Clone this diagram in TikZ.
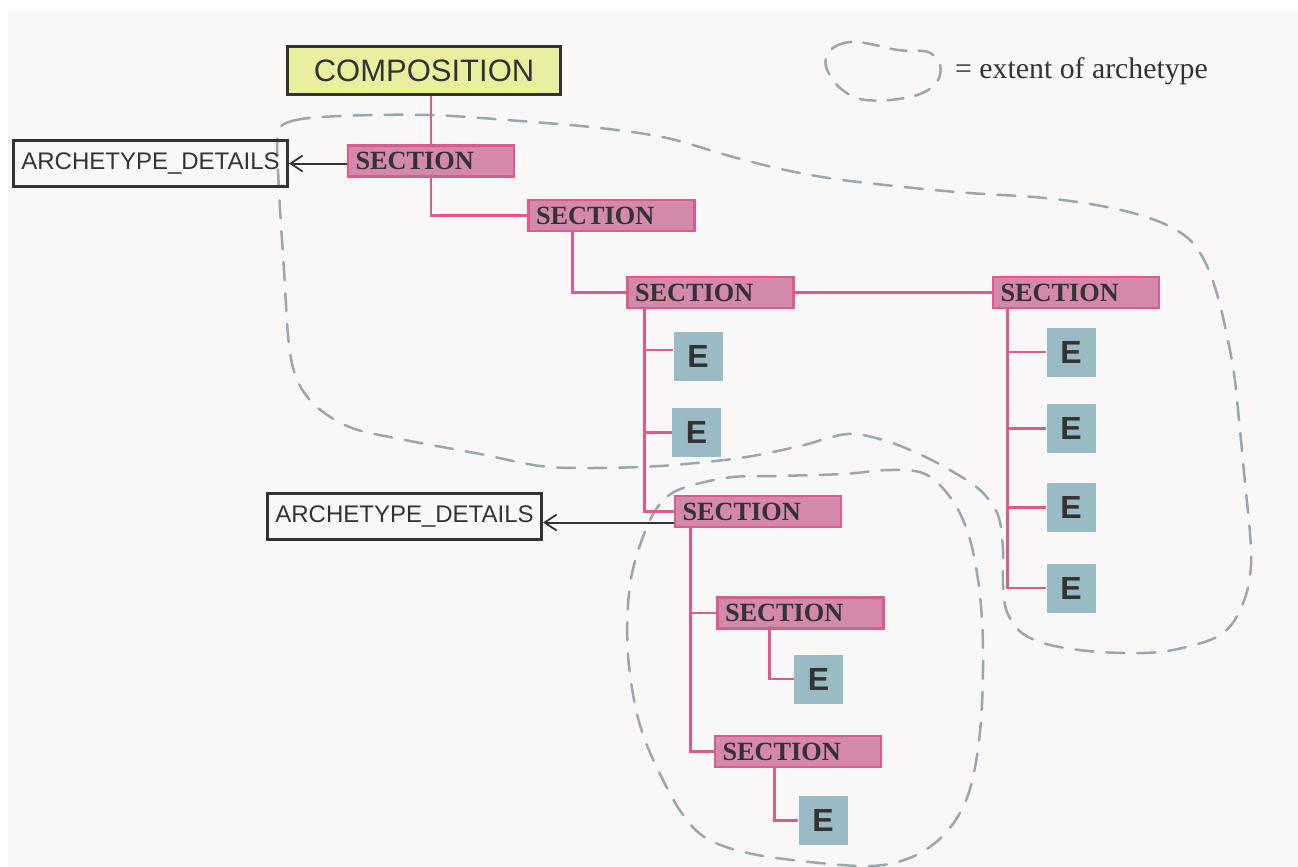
\documentclass[tikz,border=0pt]{standalone}
\usepackage{fontspec}
\setmainfont{Liberation Serif}
\setsansfont{Liberation Sans}
\usetikzlibrary{arrows.meta}

\definecolor{bgc}{HTML}{F9F8F6}
\definecolor{compfill}{HTML}{E9EF9F}
\definecolor{secfill}{HTML}{D388AC}
\definecolor{secline}{HTML}{DE5A8A}
\definecolor{efill}{HTML}{99BBC3}
\definecolor{ink}{HTML}{333333}
\definecolor{blobc}{HTML}{9AA7AD}

\begin{document}
\begin{tikzpicture}[x=1pt,y=-1pt,
  sect/.style={draw=secline, fill=secfill, line width=2.7pt,
    minimum width=166pt, minimum height=31pt, inner sep=0pt,
    text width=151pt, align=left, text height=17pt, text depth=0pt,
    font=\fontsize{26.3}{28}\selectfont\bfseries, text=ink},
  elem/.style={fill=efill, minimum width=49pt, minimum height=49pt, inner sep=0pt,
    font=\sffamily\bfseries\fontsize{32}{34}\selectfont, text=ink},
  detail/.style={draw=ink, line width=3pt, minimum width=274pt, minimum height=46pt,
    inner sep=0pt, font=\sffamily\fontsize{24}{26}\selectfont, text=ink},
  compbox/.style={draw=ink, fill=compfill, line width=2.7pt, minimum width=273pt,
    minimum height=48pt, inner sep=0pt, font=\sffamily\fontsize{31}{34}\selectfont, text=ink},
  conn/.style={draw=secline, line width=2.7pt},
  arr/.style={draw=ink, line width=2pt, -{Straight Barb[length=12pt, width=16pt, line width=1.8pt]}},
  extent/.style={draw=blobc, line width=2.5pt, dash pattern=on 18pt off 13pt, line cap=round},
]
% page and canvas
\useasboundingbox (0,0) rectangle (1298,867);
\fill[white] (0,0) rectangle (1298,867);
\fill[bgc] (8,11) rectangle (1298,867);

% archetype extents
\draw[extent] plot[smooth cycle, tension=0.55] coordinates {
  (278,135) (292,121) (340,116) (430,115) (520,121) (600,128) (667,138)
  (733,157) (790,171) (850,181) (956,192) (1045,198) (1112,208) (1160,222)
  (1190,240) (1207,266) (1220,305) (1233,367) (1239,420) (1245,483) (1250,533)
  (1251,565) (1246,595) (1232,624) (1210,640) (1160,652) (1100,652) (1050,645)
  (1022,633) (1007,612) (1003,585) (1003,550) (998,515) (980,490) (950,470)
  (917,453) (883,440) (847,434) (800,446) (740,458) (660,466) (590,468)
  (540,466) (480,454) (405,440) (352,428) (318,408) (298,382) (289,345)
  (284,270) (279,190)};
\draw[extent] plot[smooth cycle, tension=0.6] coordinates {
  (650,520) (668,496) (693,485) (733,477) (777,476) (843,474) (890,470)
  (925,474) (950,497) (967,530) (977,573) (982,620) (983,670) (981,720)
  (976,762) (968,795) (955,821) (935,843) (907,859) (870,866) (810,862)
  (748,853) (706,838) (681,812) (660,774) (645,740) (635,705) (628,655)
  (628,605) (634,565)};
\draw[extent, dash pattern=on 16pt off 12pt] plot[smooth cycle, tension=0.6] coordinates {
  (826,58) (836,46) (858,42) (898,50) (928,52) (940,65) (937,82) (920,94)
  (890,100) (860,99) (840,88) (828,72)};
\node[anchor=base west, inner sep=0pt, text=ink, font=\fontsize{29.8}{32}\selectfont]
  (legend) at (955,78) {= extent of archetype};

% nodes
\node[compbox] (comp) at (424,70.5) {COMPOSITION};
\node[detail] (ad1) at (150.5,163.5) {ARCHETYPE\_DETAILS};
\node[detail] (ad2) at (404.5,516.5) {ARCHETYPE\_DETAILS};

\node[sect] (s1) at (431,161) {SECTION};
\node[sect] (s2) at (611.5,215.5) {SECTION};
\node[sect] (s3) at (710.5,292.5) {SECTION};
\node[sect] (s4) at (1076,292.5) {SECTION};
\node[sect] (s5) at (758,511.5) {SECTION};
\node[sect] (s6) at (800.5,613) {SECTION};
\node[sect] (s7) at (798,751.5) {SECTION};

\node[elem] (e1) at (698,356) {E};
\node[elem] (e2) at (696.5,432.5) {E};
\node[elem] (e3) at (818.5,679) {E};
\node[elem] (e4) at (823,820.5) {E};
\node[elem] (r1) at (1071,352) {E};
\node[elem] (r2) at (1071,428.5) {E};
\node[elem] (r3) at (1071,507.5) {E};
\node[elem] (r4) at (1071,588) {E};

% tree connectors
\draw[conn] (comp.south -| s1.north) -- (s1.north);
\draw[conn] (s1.south) |- (s2.west);
\draw[conn] ([xshift=45pt]s2.south west) |- (s3.west);
\draw[conn] (s3.east) -- (s4.west);
\draw[conn] ([xshift=18pt]s3.south west) |- ([yshift=6pt]e1.west);
\draw[conn] ([xshift=18pt]s3.south west) |- (e2.west);
\draw[conn] ([xshift=18pt]s3.south west) |- (s5.west);
\draw[conn] ([xshift=16pt]s4.south west) |- (r1.west);
\draw[conn] ([xshift=16pt]s4.south west) |- (r2.west);
\draw[conn] ([xshift=16pt]s4.south west) |- (r3.west);
\draw[conn] ([xshift=16pt]s4.south west) |- (r4.west);
\draw[conn] ([xshift=17pt]s5.south west) |- (s6.west);
\draw[conn] ([xshift=17pt]s5.south west) |- (s7.west);
\draw[conn] ([xshift=53pt]s6.south west) |- (e3.west);
\draw[conn] ([xshift=61pt]s7.south west) |- (e4.west);

% archetype details links
\draw[arr] (s1.west |- ad1.east) -- (ad1.east);
\coordinate (a5) at ([yshift=-11pt]s5.west);
\draw[arr] (a5) -- (a5 -| ad2.east);
\end{tikzpicture}
\end{document}
